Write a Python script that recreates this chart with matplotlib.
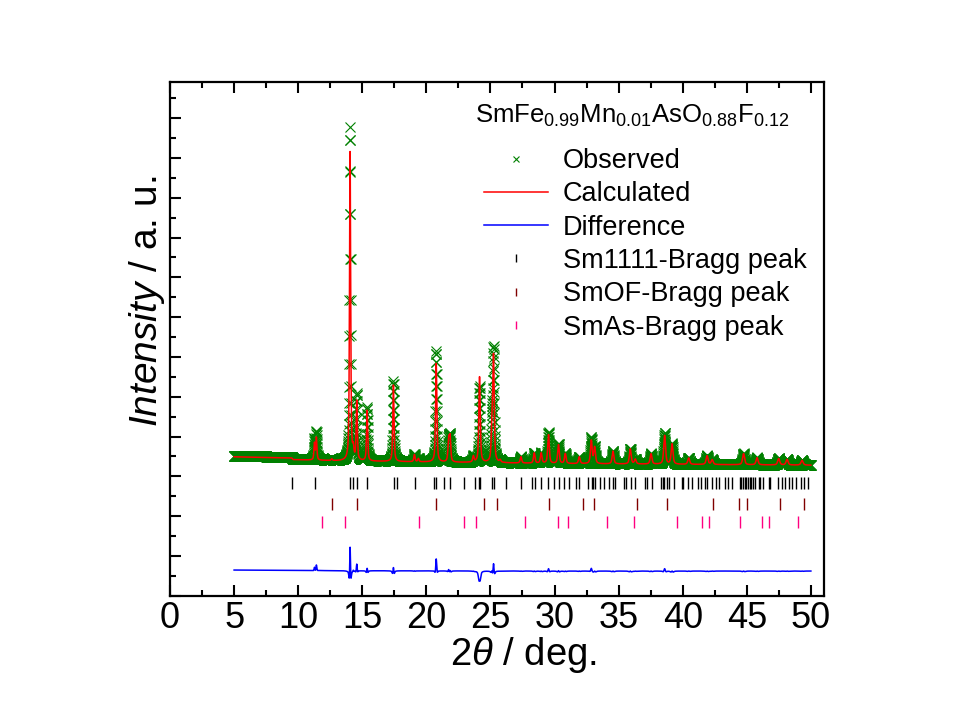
import numpy as np
import matplotlib
matplotlib.use("Agg")
import matplotlib.pyplot as plt
from matplotlib.lines import Line2D
from matplotlib.ticker import MultipleLocator

plt.rcParams['font.family'] = ['Liberation Sans', 'DejaVu Sans']
plt.rcParams['mathtext.fontset'] = 'custom'
plt.rcParams['mathtext.rm'] = 'Liberation Sans'
plt.rcParams['mathtext.it'] = 'Liberation Sans:italic'
plt.rcParams['mathtext.bf'] = 'Liberation Sans:bold'

# ---------------- data ----------------
scan_start, scan_end, scan_step = 5.0, 50.0, 0.01

bg_pos = [5.0, 9.5, 9.6, 13.0, 20.0, 30.0, 40.0, 50.0]
bg_calc = [3490, 3460, 3420, 3390, 3360, 3320, 3300, 3280]
bg_obs = [3520, 3480, 3440, 3405, 3370, 3325, 3305, 3285]

peak_pos = [11.27, 11.42, 12.62, 14.05, 14.30, 14.57, 15.38, 17.43, 19.07, 19.38,
            20.77, 21.74, 21.85, 23.67, 24.15, 25.12, 25.24, 25.76, 27.38, 28.42,
            28.96, 29.53, 30.31, 30.84, 31.93, 32.87, 33.13, 34.56, 35.91, 36.30,
            37.53, 38.59, 39.17, 40.47, 41.90, 42.30, 44.75, 45.80, 47.49, 48.14,
            49.31]
peak_calc = [420, 560, 40, 7760, 250, 1480, 1270, 1920, 180, 80,
             2480, 550, 600, 150, 2150, 800, 2600, 60, 160, 260,
             260, 720, 470, 250, 170, 580, 410, 320, 380, 120,
             260, 720, 510, 160, 220, 120, 280, 180, 160, 140,
             120]
peak_obs = [500, 700, 40, 8350, 280, 1650, 1330, 2000, 180, 80,
            2780, 600, 620, 150, 1900, 850, 2800, 60, 160, 260,
            260, 780, 480, 250, 170, 650, 410, 320, 380, 120,
            260, 780, 510, 160, 220, 120, 280, 180, 160, 140,
            120]
diff_offset = 615

bragg_sm1111 = [9.55, 11.35, 14.08, 14.26, 14.62, 15.40, 17.49, 17.72, 19.15, 20.56,
                20.74, 21.34, 21.81, 22.90, 23.76, 24.07, 24.20, 25.16, 25.29, 26.25,
                27.42, 28.28, 28.44, 28.93, 29.50, 29.98, 30.37, 30.76, 31.12, 31.69,
                31.90, 32.58, 32.89, 32.99, 33.15, 33.54, 33.88, 34.24, 34.56, 34.71,
                35.44, 35.57, 35.94, 36.30, 37.03, 37.18, 37.57, 38.30, 38.43, 38.56,
                38.77, 38.95, 39.29, 39.94, 40.05, 40.41, 40.75, 41.17, 41.43, 41.74,
                41.87, 42.26, 42.57, 42.83, 43.27, 43.53, 43.87, 44.44, 44.57, 44.70,
                44.83, 44.97, 45.10, 45.23, 45.36, 45.49, 45.67, 45.95, 46.06, 46.24,
                46.71, 46.84, 47.46, 47.75, 47.98, 48.27, 48.56, 48.87, 49.26, 49.44,
                49.78]
bragg_smof = [12.67, 14.62, 20.79, 24.46, 25.55, 29.53, 32.19, 33.05, 36.40, 38.75,
              42.34, 44.37, 44.99, 47.59, 49.44]
bragg_smas = [11.89, 13.69, 19.46, 22.90, 23.91, 27.69, 30.24, 31.02, 34.09, 36.17,
              39.55, 41.48, 42.02, 44.44, 46.19, 46.71, 48.97]
bragg_levels = [2835, 2313, 1848]

title_text = r"SmFe$_{0.99}$Mn$_{0.01}$AsO$_{0.88}$F$_{0.12}$"
legend_labels = ["Observed", "Calculated", "Difference",
                 "Sm1111-Bragg peak", "SmOF-Bragg peak", "SmAs-Bragg peak"]

# ---------------- profile built from the peak list ----------------
tt = np.arange(scan_start, scan_end + scan_step / 2, scan_step)


def profile(x, positions, heights, bgx, bgy, wscale):
    y = np.interp(x, bgx, bgy).astype(float)
    for p, h in zip(positions, heights):
        w = (0.07 + 0.0025 * p) * wscale
        d = (x - p) / (w / 2)
        lor = 1.0 / (1.0 + d ** 2)
        gau = np.exp(-np.log(2) * d ** 2)
        y += h * (0.6 * lor + 0.4 * gau)
    return y


y_calc = profile(tt, peak_pos, peak_calc, bg_pos, bg_calc, 1.0)
y_obs = profile(tt, peak_pos, peak_obs, bg_pos, bg_obs, 0.92)
y_diff = y_obs - y_calc + diff_offset

# ---------------- figure ----------------
fig = plt.figure(figsize=(9.6, 7.2), dpi=100)
ax = fig.add_axes([170 / 960, 1 - 595.7 / 720, (823.7 - 170) / 960, (595.7 - 82) / 720])

green = '#008000'
ax.plot(tt, y_obs, linestyle='none', marker='x', markersize=7.0,
        markeredgewidth=0.8, color=green, zorder=2)
ax.plot(tt, y_calc, color='#ff0000', lw=1.1, zorder=3)
ax.plot(tt, y_diff, color='#0000ff', lw=1.1, zorder=3)

bragg_colors = ['#000000', '#800000', '#ff0080']
for pos, lev, col in zip([bragg_sm1111, bragg_smof, bragg_smas], bragg_levels, bragg_colors):
    ax.plot(pos, [lev] * len(pos), linestyle='none', marker='|', markersize=8.5,
            markeredgewidth=1.0, color=col, zorder=3)

ax.set_xlim(0, 51)
ax.set_ylim(0, 12910)
ax.xaxis.set_major_locator(MultipleLocator(5))
ax.xaxis.set_minor_locator(MultipleLocator(2.5))
ax.yaxis.set_major_locator(MultipleLocator(1000))
ax.yaxis.set_minor_locator(MultipleLocator(500))
ax.tick_params(which='both', direction='in', top=True, right=False, left=True,
               bottom=True, labelleft=False, width=1.5)
ax.tick_params(which='major', length=7.8, labelsize=26, pad=4)
ax.tick_params(which='minor', length=4.2)
for s in ax.spines.values():
    s.set_linewidth(1.6)

fig.text(523 / 960, 1 - 655 / 720, r"2$\mathit{\theta}$ / deg.", fontsize=27.5,
         ha='center', va='center')
fig.text(147 / 960, 1 - 301 / 720, r"$\mathit{Intensity}$ / a. u.", fontsize=28,
         ha='center', va='center', rotation=90)

fig.text(475 / 960, 1 - 116 / 720, title_text, fontsize=18.5, ha='left', va='center')

handles = [
    Line2D([], [], linestyle='none', marker='x', markersize=5, markeredgewidth=0.8, color=green),
    Line2D([], [], color='#ff0000', lw=1.1),
    Line2D([], [], color='#0000ff', lw=1.1),
    Line2D([], [], linestyle='none', marker='|', markersize=6, markeredgewidth=1.0, color=bragg_colors[0]),
    Line2D([], [], linestyle='none', marker='|', markersize=6, markeredgewidth=1.0, color=bragg_colors[1]),
    Line2D([], [], linestyle='none', marker='|', markersize=6, markeredgewidth=1.0, color=bragg_colors[2]),
]
leg = fig.legend(handles, legend_labels, loc='upper left',
                 bbox_to_anchor=(484 / 960, 1 - 148 / 720), frameon=False,
                 fontsize=19.5, handlelength=2.35, handletextpad=0.55,
                 labelspacing=0.27, borderpad=0, borderaxespad=0)

fig.savefig('out.png', dpi=100)
